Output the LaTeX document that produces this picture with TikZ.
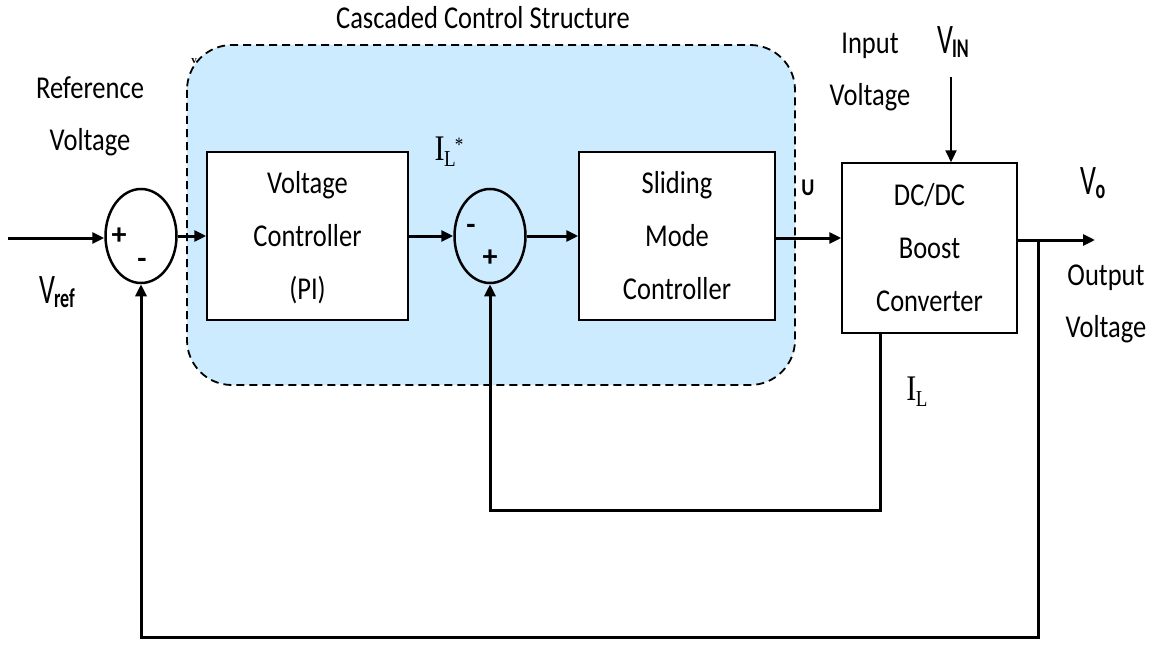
\documentclass[tikz,border=0pt]{standalone}
\usepackage{fontspec}
\setmainfont{Carlito}
\newfontfamily\serifx{Liberation Serif}
\usepackage{graphicx}
\usetikzlibrary{arrows.meta,shapes.geometric}
\definecolor{regionblue}{RGB}{204,235,255}
\newcommand\tl[1]{\scalebox{1}[1.2]{\fontsize{26.5}{44}\selectfont\begin{tabular}{@{}c@{}}#1\end{tabular}}}
\newcommand\vsub[2]{\scalebox{1}[1.5]{\fontsize{28}{30}\selectfont V\kern-1pt\raisebox{-3pt}{\fontsize{18}{20}\selectfont\bfseries #2}}}
\begin{document}
\begin{tikzpicture}[x=1pt,y=-1pt,
  block/.style={draw, line width=1.5pt, fill=white, inner sep=0pt},
  sumnode/.style={ellipse, draw, line width=2.5pt, minimum width=71pt, minimum height=94pt, inner sep=0pt},
  sig/.style={line width=3pt, -{Triangle[length=12pt,width=11pt]}},
  lbl/.style={inner sep=0pt},
  region/.style={draw, dashed, dash pattern=on 8pt off 5pt, line width=1.8pt, fill=regionblue, rounded corners=45pt}]
\useasboundingbox (0,0) rectangle (1158,650);
% cascaded region
\draw[region] (187,45) rectangle (795,385);
\node[lbl] (title) at (483,18) {\tl{Cascaded Control Structure}};
\node[lbl] (vart) at (194,61) {\serifx\bfseries\fontsize{11}{12}\selectfont v};
% blocks
\node[block, minimum width=201pt, minimum height=168pt] (vc) at (307.5,236) {\tl{Voltage\\Controller\\(PI)}};
\node[block, minimum width=196pt, minimum height=168pt] (smc) at (677,236) {\tl{Sliding\\Mode\\Controller}};
\node[block, minimum width=175pt, minimum height=170pt] (dc) at (929.5,248) {\tl{DC/DC\\Boost\\Converter}};
% summing junctions
\node[sumnode] (s1) at (141,236) {};
\node[sumnode] (s2) at (490,236) {};
\node[lbl] (s1p) at (119,236) {\fontsize{30}{30}\selectfont\bfseries +};
\node[lbl] (s1m) at (142,263) {\fontsize{30}{30}\selectfont\bfseries -};
\node[lbl] (s2m) at (471,229) {\fontsize{30}{30}\selectfont\bfseries -};
\node[lbl] (s2p) at (490,258) {\fontsize{30}{30}\selectfont\bfseries +};
% text labels
\node[lbl] (ref) at (90,114) {\tl{Reference\\Voltage}};
\node[lbl] (inv) at (870,69) {\tl{Input\\Voltage}};
\node[lbl] (outv) at (1106,301) {\tl{Output\\Voltage}};
\node[lbl] (vref) at (57,292) {\vsub{V}{ref}};
\node[lbl] (vinl) at (953,42) {\vsub{V}{IN}};
\node[lbl] (vol) at (1093,183) {\vsub{V}{o}};
\node[lbl] (ul) at (808,188) {\scalebox{1}[1.2]{\fontsize{20}{22}\selectfont\bfseries U}};
\node[lbl] (ils) at (449,152) {\scalebox{1}[1.2]{\serifx\fontsize{30}{30}\selectfont I\kern-0.5pt\raisebox{-5pt}{\fontsize{19}{20}\selectfont L}\kern-1pt\raisebox{8pt}{\fontsize{17}{18}\selectfont *}}};
\node[lbl] (il) at (917,392) {\scalebox{1}[1.2]{\serifx\fontsize{30}{30}\selectfont I\kern-0.5pt\raisebox{-5pt}{\fontsize{19}{20}\selectfont L}}};
% coordinates
\coordinate (in) at (8,238);
\coordinate (j) at (1038,240);
\coordinate (vout) at (1095,240);
\coordinate (fb) at (1038,637);
\coordinate (ilc) at (880,510);
\coordinate (vin) at (951,77);
% connectors
\draw[sig] (in) -- (in -| s1.west);
\draw[sig] (s1.east) -- (vc.west);
\draw[sig] (vc.east) -- (s2.west);
\draw[sig] (s2.east) -- (smc.west);
\draw[sig] (smc.east |- in) -- (in -| dc.west);
\draw[sig] (dc.east |- j) -- (vout);
\draw[sig, line width=2.2pt] (vin) -- (dc.north -| vin);
\draw[sig] (j) -- (fb) -| (s1.south);
\draw[sig] (dc.south -| ilc) -- (ilc) -| (s2.south);
\end{tikzpicture}
\end{document}
